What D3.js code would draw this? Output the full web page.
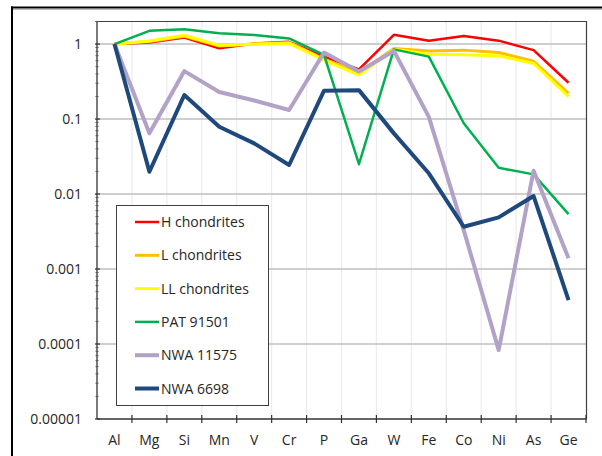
<!DOCTYPE html>
<html>
<head>
<meta charset="utf-8">
<script src="https://cdn.jsdelivr.net/npm/d3@7"></script>
<style>
  body { margin: 0; background: #fff; }
  svg text { font-family: "Open Sans", sans-serif; fill: #262626; }
</style>
</head>
<body>
<div id="chart"></div>
<script>
var elements = ['Al', 'Mg', 'Si', 'Mn', 'V', 'Cr', 'P', 'Ga', 'W', 'Fe', 'Co', 'Ni', 'As', 'Ge'];
var yTicks = [1, 0.1, 0.01, 0.001, 0.0001, 0.00001];
var yTickLabels = ['1', '0.1', '0.01', '0.001', '0.0001', '0.00001'];

var seriesNames = ['H chondrites', 'L chondrites', 'LL chondrites', 'PAT 91501', 'NWA 11575', 'NWA 6698'];
var hChondrites  = [1, 1.05, 1.22, 0.88, 1.02, 1.07, 0.68, 0.46, 1.33, 1.11, 1.28, 1.11, 0.83, 0.305];
var lChondrites  = [1, 1.08, 1.27, 0.94, 1.0, 1.05, 0.63, 0.41, 0.87, 0.81, 0.83, 0.77, 0.59, 0.22];
var llChondrites = [1, 1.1, 1.31, 0.96, 1.0, 1.02, 0.61, 0.385, 0.85, 0.73, 0.72, 0.70, 0.55, 0.20];
var pat91501     = [1, 1.5, 1.58, 1.39, 1.32, 1.19, 0.72, 0.025, 0.85, 0.68, 0.088, 0.0224, 0.0183, 0.0054];
var nwa11575     = [1, 0.0645, 0.436, 0.229, 0.177, 0.132, 0.77, 0.43, 0.81, 0.107, 0.0033, 0.000083, 0.0205, 0.00139];
var nwa6698      = [1, 0.0198, 0.209, 0.079, 0.0474, 0.0244, 0.239, 0.243, 0.0644, 0.0189, 0.00366, 0.00489, 0.0094, 0.000386];

var seriesValues = [hChondrites, lChondrites, llChondrites, pat91501, nwa11575, nwa6698];
var colors = ['#ff0000', '#ffc000', '#ffff00', '#00b050', '#b3a2c7', '#1f497d'];
var widths = [2.5, 3, 3, 2.5, 4, 4];

var width = 602, height = 456;
var pLeft = 97, pRight = 586, pTop = 21, pBottom = 419;

var svg = d3.select('#chart').append('svg')
    .attr('width', width)
    .attr('height', height);

// outer frame: only top and left edges show
svg.append('line')
    .attr('x1', 11).attr('x2', 602).attr('y1', 7.5).attr('y2', 7.5)
    .attr('stroke', '#000').attr('stroke-width', 2);
svg.append('line')
    .attr('x1', 13).attr('x2', 602).attr('y1', 9.5).attr('y2', 9.5)
    .attr('stroke', '#bbb').attr('stroke-width', 1);
svg.append('line')
    .attr('x1', 12).attr('x2', 12).attr('y1', 6.5).attr('y2', 456)
    .attr('stroke', '#000').attr('stroke-width', 2);

var x = d3.scaleBand().domain(elements).range([pLeft, pRight]);
var y = d3.scaleLog().domain([0.00001, 2.03]).range([pBottom, pTop]);

// vertical light grid at category boundaries
var bounds = elements.map(function(d) { return x(d); }).slice(1);
svg.selectAll('.vgrid').data(bounds).enter().append('line')
    .attr('x1', function(d) { return d; })
    .attr('x2', function(d) { return d; })
    .attr('y1', pTop).attr('y2', pBottom)
    .attr('stroke', '#ececec').attr('stroke-width', 1.2);

// horizontal grid at decades
svg.selectAll('.hgrid').data(yTicks.slice(0, -1)).enter().append('line')
    .attr('x1', pLeft).attr('x2', pRight)
    .attr('y1', function(d) { return y(d); })
    .attr('y2', function(d) { return y(d); })
    .attr('stroke', '#bfbfbf').attr('stroke-width', 1.6);

// plot border top and right
svg.append('path')
    .attr('d', 'M' + pLeft + ',' + (pTop + 0.5) + 'H' + (pRight + 0.5) + 'V' + pBottom)
    .attr('fill', 'none').attr('stroke', '#404040').attr('stroke-width', 1.2);

// y axis
var minor = [];
for (var e = -5; e < 1; e++) {
  for (var m = 2; m <= 9; m++) minor.push(m * Math.pow(10, e));
}
minor.push(2);
var yAxis = svg.append('g');
yAxis.append('line')
    .attr('x1', pLeft).attr('x2', pLeft).attr('y1', pTop).attr('y2', pBottom)
    .attr('stroke', '#333').attr('stroke-width', 1.3);
yAxis.selectAll('.minor').data(minor.filter(function(d) { return d <= 2.03; })).enter().append('line')
    .attr('x1', pLeft - 1.5).attr('x2', pLeft + 1.5)
    .attr('y1', function(d) { return y(d); })
    .attr('y2', function(d) { return y(d); })
    .attr('stroke', '#555').attr('stroke-width', 1);
yAxis.selectAll('.major').data(yTicks).enter().append('line')
    .attr('x1', pLeft - 2).attr('x2', pLeft + 3)
    .attr('y1', function(d) { return y(d); })
    .attr('y2', function(d) { return y(d); })
    .attr('stroke', '#333').attr('stroke-width', 1.2);
yAxis.selectAll('.ylab').data(yTicks).enter().append('text')
    .attr('x', 82)
    .attr('y', function(d) { return y(d) + 5; })
    .attr('text-anchor', 'end')
    .style('font-size', '14px')
    .text(function(d, i) { return yTickLabels[i]; });

// x axis
var xAxis = svg.append('g');
xAxis.append('line')
    .attr('x1', pLeft).attr('x2', pRight + 0.5).attr('y1', pBottom).attr('y2', pBottom)
    .attr('stroke', '#333').attr('stroke-width', 1.3);
xAxis.selectAll('.xtick').data(bounds.concat([pRight])).enter().append('line')
    .attr('x1', function(d) { return d; })
    .attr('x2', function(d) { return d; })
    .attr('y1', pBottom - 4).attr('y2', pBottom + 4)
    .attr('stroke', '#333').attr('stroke-width', 1.2);
xAxis.selectAll('.xlab').data(elements).enter().append('text')
    .attr('x', function(d) { return x(d) + x.bandwidth() / 2; })
    .attr('y', 445)
    .attr('text-anchor', 'middle')
    .style('font-size', '14px')
    .text(function(d) { return d; });

// series lines
var line = d3.line()
    .x(function(d, i) { return x(elements[i]) + x.bandwidth() / 2; })
    .y(function(d) { return y(d); });

svg.selectAll('.series').data(seriesValues).enter().append('path')
    .attr('d', line)
    .attr('fill', 'none')
    .attr('stroke', function(d, i) { return colors[i]; })
    .attr('stroke-width', function(d, i) { return widths[i]; })
    .attr('stroke-linejoin', 'round');

// legend
var legend = svg.append('g');
legend.append('rect')
    .attr('x', 116.5).attr('y', 205.5)
    .attr('width', 152).attr('height', 200)
    .attr('fill', '#fff')
    .attr('stroke', '#404040').attr('stroke-width', 1);
var rows = legend.selectAll('.row').data(seriesNames).enter().append('g')
    .attr('transform', function(d, i) { return 'translate(0,' + (222 + i * 33.3) + ')'; });
rows.append('line')
    .attr('x1', 135).attr('x2', 159).attr('y1', 0).attr('y2', 0)
    .attr('stroke', function(d, i) { return colors[i]; })
    .attr('stroke-width', function(d, i) { return widths[i]; });
rows.append('text')
    .attr('x', 161).attr('y', 5)
    .style('font-size', '14px')
    .text(function(d) { return d; });
</script>
</body>
</html>
